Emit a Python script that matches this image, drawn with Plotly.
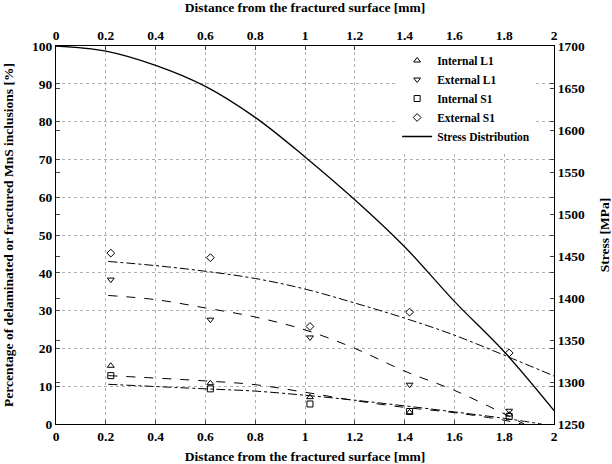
import plotly.graph_objects as go

# Measured points
x_pts = [0.22, 0.62, 1.02, 1.42, 1.82]
internal_L1 = [15.4, 10.8, 7.1, 3.1, 2.5]
external_L1 = [38.2, 27.6, 22.9, 10.4, 3.5]
internal_S1 = [12.8, 9.3, 5.3, 3.3, 2.0]
external_S1 = [45.2, 44.0, 25.8, 29.6, 18.8]

# Fit curves
fit_ext_S1_x = [0.21, 0.4, 0.6, 0.8, 1.0, 1.2, 1.4, 1.6, 1.8, 2.0]
fit_ext_S1_y = [43.0, 41.9, 40.4, 38.5, 35.7, 32.0, 28.0, 23.5, 18.2, 12.7]
fit_ext_L1_x = [0.21, 0.4, 0.6, 0.8, 1.0, 1.2, 1.4, 1.6, 1.8, 1.88]
fit_ext_L1_y = [34.0, 32.9, 30.7, 28.3, 24.9, 20.0, 14.0, 8.9, 2.7, 0.0]
fit_int_L1_x = [0.21, 0.6, 0.8, 1.0, 1.2, 1.4, 1.6, 1.8, 1.87]
fit_int_L1_y = [12.8, 11.4, 10.4, 8.4, 6.2, 4.4, 3.0, 1.0, 0.0]
fit_int_S1_x = [0.21, 0.6, 0.8, 1.0, 1.2, 1.4, 1.6, 1.8, 1.95]
fit_int_S1_y = [10.5, 9.3, 8.7, 7.6, 6.3, 4.8, 3.2, 1.5, 0.0]

# Stress distribution
stress_x = [0, 0.2, 0.4, 0.6, 0.8, 1.0, 1.2, 1.4, 1.6, 1.8, 2.0]
stress_y = [1700, 1694, 1677, 1652, 1615, 1568, 1517, 1461, 1396, 1336, 1266]

x_ticks = [0, 0.2, 0.4, 0.6, 0.8, 1, 1.2, 1.4, 1.6, 1.8, 2]
x_ticklabels = ["0", "0.2", "0.4", "0.6", "0.8", "1", "1.2", "1.4", "1.6", "1.8", "2"]
y_ticks = list(range(0, 101, 10))
y2_ticks = list(range(1250, 1701, 50))

FONT = "'Liberation Serif', 'Times New Roman', serif"
fig = go.Figure()

mk = dict(color="black", size=6, line=dict(width=1, color="black"))
fig.add_trace(go.Scatter(x=x_pts, y=internal_L1, mode="markers", name="Internal L1",
                         marker=dict(symbol="triangle-up-open", **mk)))
fig.add_trace(go.Scatter(x=x_pts, y=external_L1, mode="markers", name="External L1",
                         marker=dict(symbol="triangle-down-open", **mk)))
fig.add_trace(go.Scatter(x=x_pts, y=internal_S1, mode="markers", name="Internal S1",
                         marker=dict(symbol="square-open", **mk)))
fig.add_trace(go.Scatter(x=x_pts, y=external_S1, mode="markers", name="External S1",
                         marker=dict(symbol="diamond-open", **mk)))

fits = [
    (fit_ext_S1_x, fit_ext_S1_y, "dashdot"),
    (fit_ext_L1_x, fit_ext_L1_y, "dash"),
    (fit_int_L1_x, fit_int_L1_y, "dash"),
    (fit_int_S1_x, fit_int_S1_y, "dashdot"),
]
for fx, fy, d in fits:
    fig.add_trace(go.Scatter(x=fx, y=fy, mode="lines", showlegend=False,
                             line=dict(color="black", width=1, dash=d, shape="spline")))

fig.add_trace(go.Scatter(x=stress_x, y=stress_y, mode="lines", name="Stress Distribution",
                         xaxis="x2", yaxis="y2",
                         line=dict(color="black", width=1.3, shape="spline")))

tickfont = dict(family=FONT, size=13.5, color="black", weight="bold")
titlefont = dict(family=FONT, size=13.5, color="black", weight="bold")
grid = dict(showgrid=True, gridcolor="#b0b0b0", griddash="dot", gridwidth=1)

fig.update_layout(
    width=612, height=464,
    margin=dict(l=56, r=58, t=46, b=40),
    paper_bgcolor="white", plot_bgcolor="white",
    font=dict(family=FONT, color="black"),
    xaxis=dict(range=[0, 2], tickvals=x_ticks, ticktext=x_ticklabels, ticks="inside", ticklen=4,
               showline=True, linecolor="black", linewidth=1, mirror=False, automargin=False,
               tickfont=tickfont, zeroline=False,
               title=dict(text="Distance from the fractured surface [mm]", font=titlefont),
               **grid),
    xaxis2=dict(range=[0, 2], tickvals=x_ticks, ticktext=x_ticklabels, ticks="inside", ticklen=4,
                overlaying="x", side="top", showline=True, linecolor="black", linewidth=1,
                tickfont=tickfont, zeroline=False, showgrid=False, automargin=False,
                title=dict(text="Distance from the fractured surface [mm]", font=titlefont)),
    yaxis=dict(range=[0, 100], tickvals=y_ticks, ticks="inside", ticklen=4,
               showline=True, linecolor="black", linewidth=1, mirror="ticks", automargin=False,
               tickfont=tickfont, zeroline=False,
               title=dict(text="Percentage of delaminated or fractured MnS inclusions [%]",
                          font=titlefont),
               **grid),
    yaxis2=dict(range=[1250, 1700], tickvals=y2_ticks, ticks="inside", ticklen=4,
                overlaying="y", side="right", showline=True, linecolor="black", linewidth=1,
                mirror="ticks", tickfont=tickfont, zeroline=False, showgrid=False, automargin=False,
                title=dict(text="Stress [MPa]", font=titlefont)),
    legend=dict(x=0.685, y=1.0, xanchor="left", yanchor="top",
                bgcolor="white", borderwidth=0,
                font=dict(family=FONT, size=11.5, color="black", weight="bold"),
                tracegroupgap=0, itemwidth=30),
)

fig.write_html("out.html", config={"displayModeBar": False},
               post_script="document.body.style.margin='0px';")
